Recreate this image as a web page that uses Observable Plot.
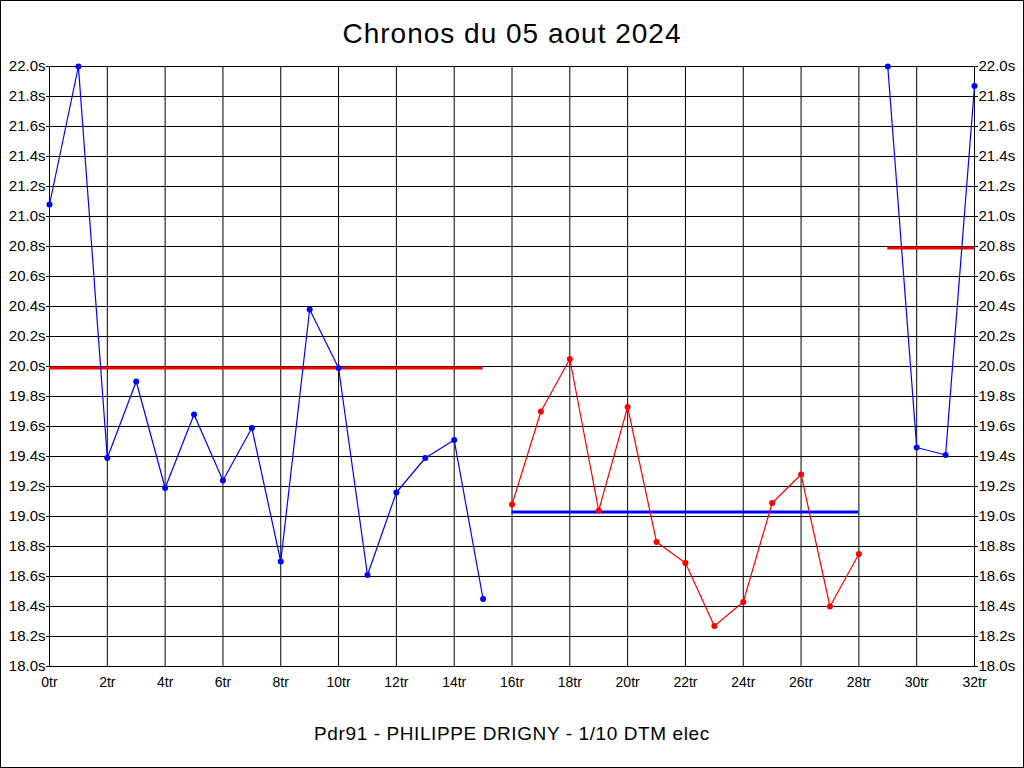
<!DOCTYPE html>
<html>
<head>
<meta charset="utf-8">
<script src="https://cdn.jsdelivr.net/npm/d3@7"></script>
<script src="https://cdn.jsdelivr.net/npm/@observablehq/plot@0.6"></script>
<style>
  html, body { margin: 0; padding: 0; background: #fff; }
  #page { position: relative; width: 1024px; height: 768px; overflow: hidden; font-family: "Liberation Sans", Arial, sans-serif; }
  #border { position: absolute; left: 0; top: 0; width: 1024px; height: 768px; box-sizing: border-box; border: 1px solid #000; pointer-events: none; }
  #title { position: absolute; left: 0; width: 1024px; top: 17px; text-align: center; font-size: 28px; letter-spacing: 1px; color: #000; line-height: 34px; }
  #caption { position: absolute; left: 0; width: 1024px; top: 722px; text-align: center; font-size: 19px; letter-spacing: 0.6px; color: #000; line-height: 24px; }
  #chart { position: absolute; left: 0; top: 0; }
  .xax text { font-family: "Liberation Sans Narrow", "Liberation Sans", Arial, sans-serif; }
</style>
</head>
<body>
<div id="page">
  <div id="chart"></div>
  <div id="title">Chronos du 05 aout 2024</div>
  <div id="caption">Pdr91 - PHILIPPE DRIGNY - 1/10 DTM elec</div>
  <div id="border"></div>
</div>
<script>
// Series 1 (blue) laps 0..15
const laps1 = [0,1,2,3,4,5,6,7,8,9,10,11,12,13,14,15];
const times1 = [21.08,22.0,19.39,19.90,19.19,19.68,19.24,19.59,18.70,20.38,19.99,18.61,19.16,19.39,19.51,18.45];
// Series 2 (red) laps 16..28
const laps2 = [16,17,18,19,20,21,22,23,24,25,26,27,28];
const times2 = [19.08,19.70,20.05,19.04,19.73,18.83,18.69,18.27,18.43,19.09,19.28,18.40,18.75];
// Series 3 (blue) laps 29..32
const laps3 = [29,30,31,32];
const times3 = [22.0,19.46,19.41,21.87];
// Average lines: start lap, end lap, value, colour
const avgStart = [0, 16, 29];
const avgEnd = [15, 28, 32];
const avgValue = [19.99, 19.03, 20.79];
const avgColor = ["#ff0000", "#0000ff", "#ff0000"];
const serieColor = ["#0000ff", "#ff0000", "#0000ff"];
// Ticks
const xTicks = d3.range(0, 33, 2);
const yTicks = d3.range(0, 21).map(i => +(18 + i * 0.2).toFixed(1));

const pts = [];
[[laps1, times1], [laps2, times2], [laps3, times3]].forEach(([l, t], s) => {
  l.forEach((lap, i) => pts.push({lap, time: t[i], s}));
});
const avgs = avgStart.map((a, i) => ({x1: a, x2: avgEnd[i], y: avgValue[i], c: avgColor[i]}));

const chart = Plot.plot({
  width: 1024,
  height: 768,
  marginLeft: 49,
  marginRight: 50,
  marginTop: 66,
  marginBottom: 102,
  style: { fontFamily: "'Liberation Sans', Arial, sans-serif", fontSize: "15px", color: "#000", background: "transparent" },
  x: { domain: [0, 32], ticks: xTicks },
  y: { domain: [18, 22], ticks: yTicks },
  marks: [
    Plot.gridX(xTicks, { stroke: "#000", strokeOpacity: 1 }),
    Plot.gridY(yTicks, { stroke: "#000", strokeOpacity: 1 }),
    Plot.frame({ stroke: "#000" }),
    Plot.axisY(yTicks, { anchor: "left", tickSize: 3, tickPadding: 1, tickFormat: d => d.toFixed(1) + "s", label: null, fontSize: 15 }),
    Plot.axisY(yTicks, { anchor: "right", tickSize: 3, tickPadding: 1, tickFormat: d => d.toFixed(1) + "s", label: null, fontSize: 15 }),
    Plot.axisX(xTicks, { anchor: "bottom", tickSize: 0, tickPadding: 11, tickFormat: d => d + "tr", label: null, fontSize: 14, className: "xax" }),
    Plot.ruleY(avgs, { x1: "x1", x2: "x2", y: "y", stroke: d => d.c, strokeWidth: 3 }),
    Plot.line(pts, { x: "lap", y: "time", z: "s", stroke: d => serieColor[d.s], strokeWidth: 1.2 }),
    Plot.dot(pts, { x: "lap", y: "time", r: 3, fill: d => serieColor[d.s], stroke: "none" })
  ]
});
document.getElementById("chart").appendChild(chart);
</script>
</body>
</html>
